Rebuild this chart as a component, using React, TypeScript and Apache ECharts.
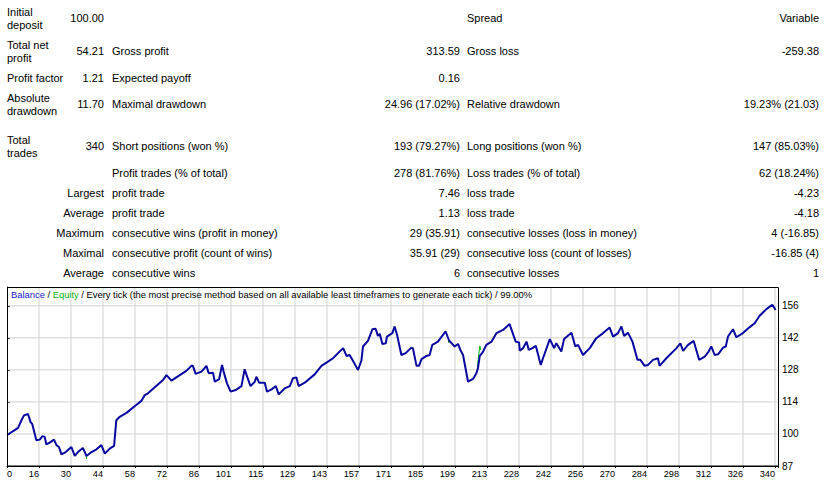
import React, { useEffect, useRef } from 'react';
import * as echarts from 'echarts';

// ---------- data ----------
const tableRows = [
  { a: ['Initial', 'deposit'], av: '100.00', b: '', bv: '', c: 'Spread', cv: 'Variable' },
  { a: ['Total net', 'profit'], av: '54.21', b: 'Gross profit', bv: '313.59', c: 'Gross loss', cv: '-259.38' },
  { a: ['Profit factor'], av: '1.21', b: 'Expected payoff', bv: '0.16', c: '', cv: '' },
  { a: ['Absolute', 'drawdown'], av: '11.70', b: 'Maximal drawdown', bv: '24.96 (17.02%)', c: 'Relative drawdown', cv: '19.23% (21.03)' },
  { a: ['Total', 'trades'], av: '340', b: 'Short positions (won %)', bv: '193 (79.27%)', c: 'Long positions (won %)', cv: '147 (85.03%)' },
  { a: [''], av: '', b: 'Profit trades (% of total)', bv: '278 (81.76%)', c: 'Loss trades (% of total)', cv: '62 (18.24%)' },
  { a: ['Largest'], av: '', b: 'profit trade', bv: '7.46', c: 'loss trade', cv: '-4.23' },
  { a: ['Average'], av: '', b: 'profit trade', bv: '1.13', c: 'loss trade', cv: '-4.18' },
  { a: ['Maximum'], av: '', b: 'consecutive wins (profit in money)', bv: '29 (35.91)', c: 'consecutive losses (loss in money)', cv: '4 (-16.85)' },
  { a: ['Maximal'], av: '', b: 'consecutive profit (count of wins)', bv: '35.91 (29)', c: 'consecutive loss (count of losses)', cv: '-16.85 (4)' },
  { a: ['Average'], av: '', b: 'consecutive wins', bv: '6', c: 'consecutive losses', cv: '1' },
];

const xTickLabels = ['0', '16', '30', '44', '58', '72', '86', '101', '115', '129', '143', '157', '171', '185', '199', '213', '228', '242', '256', '270', '284', '298', '312', '326', '340'];
const yTickLabels = ['87', '100', '114', '128', '142', '156'];
const yTickValues = [86.55, 100.45, 114.35, 128.25, 142.15, 156.05];

const balancePoints: [number, number][] = [
  [0, 100.0], [3.4, 102.1], [4.9, 103.1], [6.4, 106.4], [7.5, 108.5], [9.3, 109.1], [10.4, 105.7], [11.2, 104.7],
  [13.0, 97.7], [14.5, 98.0], [15.7, 99.5], [16.7, 99.2], [17.4, 95.9], [18.9, 96.7], [20.8, 98.0], [21.9, 95.6],
  [23.0, 94.8], [24.1, 91.6], [26.0, 92.6], [28.5, 94.8], [30.0, 90.9], [31.4, 92.6], [33.6, 94.4], [35.2, 90.9],
  [37.4, 92.6], [39.6, 93.8], [41.8, 95.6], [43.3, 91.9], [45.5, 94.1], [47.4, 95.3], [48.4, 106.4], [49.9, 107.9],
  [52.9, 109.6], [56.5, 112.5], [59.5, 114.8], [61.0, 117.3], [62.4, 118.1], [69.1, 123.9], [70.6, 126.0], [72.8, 123.6],
  [76.5, 126.0], [79.4, 127.8], [81.6, 130.0], [82.3, 130.0], [83.5, 126.5], [86.1, 127.5], [88.3, 130.0], [89.3, 126.8],
  [91.2, 127.0], [92.0, 123.1], [93.9, 124.2], [95.2, 130.4], [95.9, 127.5], [97.4, 122.4], [99.0, 118.8], [101.2, 119.5],
  [103.8, 121.2], [105.2, 128.5], [106.3, 125.3], [107.8, 121.2], [109.7, 123.1], [110.4, 125.3], [111.6, 122.7], [114.1, 122.7],
  [115.1, 118.8], [117.1, 119.8], [119.0, 121.2], [120.3, 117.6], [122.9, 120.2], [125.2, 121.2], [126.6, 124.6], [128.1, 125.0],
  [129.1, 121.2], [131.8, 122.7], [136.2, 126.3], [139.2, 130.0], [142.1, 131.8], [144.3, 133.3], [148.8, 137.7], [150.3, 134.3],
  [151.7, 134.7], [153.2, 132.1], [155.4, 128.2], [156.9, 132.3], [157.6, 138.4], [159.8, 140.8], [161.8, 145.9], [163.2, 146.1],
  [164.2, 143.0], [165.0, 143.9], [166.2, 139.5], [167.7, 139.8], [168.2, 142.7], [170.6, 144.2], [171.6, 147.1], [172.7, 143.4],
  [174.6, 134.7], [176.5, 135.5], [179.0, 137.9], [179.7, 137.6], [181.3, 130.0], [182.4, 130.0], [183.5, 132.9], [185.7, 134.3],
  [187.1, 134.7], [188.3, 139.1], [190.8, 140.5], [193.0, 143.4], [194.2, 144.9], [195.7, 141.0], [198.2, 138.4], [199.7, 139.5],
  [200.7, 136.9], [201.9, 134.7], [204.1, 123.1], [206.3, 124.3], [207.8, 126.8], [208.5, 129.0], [209.3, 134.3], [210.5, 135.7],
  [212.2, 139.1], [214.5, 140.5], [216.7, 144.2], [219.6, 145.6], [222.5, 148.1], [225.2, 140.5], [226.7, 140.1], [227.0, 136.6],
  [228.5, 137.7], [230.0, 140.5], [231.0, 136.9], [232.6, 137.7], [234.1, 138.7], [236.3, 130.4], [237.3, 133.3], [240.3, 141.6],
  [242.2, 137.7], [243.2, 139.8], [245.4, 136.2], [246.6, 141.6], [249.9, 144.4], [251.6, 138.4], [252.8, 139.1], [255.0, 134.7],
  [258.0, 137.7], [260.9, 142.0], [263.9, 144.2], [266.8, 146.6], [268.3, 142.7], [270.5, 144.2], [272.0, 147.1], [273.2, 143.0],
  [274.9, 144.4], [276.9, 140.5], [279.1, 132.6], [280.4, 132.6], [282.3, 130.0], [283.8, 130.4], [286.0, 132.6], [288.2, 133.3],
  [288.9, 130.0], [291.9, 133.3], [296.4, 137.7], [298.1, 139.8], [299.3, 136.5], [301.5, 139.1], [304.0, 140.8], [306.4, 132.6],
  [308.9, 134.0], [310.6, 136.2], [311.8, 138.4], [313.3, 134.7], [314.8, 135.0], [317.0, 137.9], [318.2, 138.4], [319.2, 142.7],
  [321.4, 145.9], [322.9, 142.4], [325.8, 144.2], [328.8, 146.8], [331.0, 148.5], [333.2, 151.7], [336.2, 154.6], [338.8, 156.5],
  [340.3, 154.2],
];

const equitySegments: [number, number][][] = [
  [[35.2, 91.0], [35.2, 89.6]],
  [[48.1, 106.4], [48.1, 103.2]],
  [[165.1, 143.9], [165.3, 142.1]],
  [[195.5, 141.0], [195.5, 140.0]],
  [[208.3, 129.5], [208.6, 132.6], [209.3, 138.6], [209.8, 136.9]],
];

const titleParts = {
  balance: 'Balance',
  equity: 'Equity',
  rest: 'Every tick (the most precise method based on all available least timeframes to generate each tick)',
  quality: '99.00%',
};

// ---------- layout ----------
const W = 829;
const H = 483;
const FONT = 'Liberation Sans, Arial, sans-serif';
const FS = 11;
const TITLE_FS = 9.4;
const XL_FS = 9.2;
const YL_FS = 10;
const rowY = [18, 51, 78, 104, 146, 173, 193, 213, 233, 253, 273];
const colALeft = 7;
const colAValRight = 104;
const colBLeft = 112;
const colBValRight = 460;
const colCLeft = 467;
const colCValRight = 819;
const X_MAX_LABEL = 340;
const X_STEPS = 24;
const GRID_COLOR = '#d0d0d0';
const G_LEFT = 7;
const G_TOP = 287;
const G_RIGHT = 778;
const G_BOTTOM = 466;
const Y_MIN = 86.55;
const Y_MAX = 164.2;
const X_MAX = ((G_RIGHT - G_LEFT) / 768) * X_MAX_LABEL;

function txt(text: string, x: number, y: number, align: string) {
  return {
    type: 'text',
    x,
    y,
    silent: true,
    style: {
      text,
      fill: '#000',
      font: `${FS}px ${FONT}`,
      textAlign: align,
      verticalAlign: 'middle',
    },
  };
}

function gridSeries(data: [number, number][]) {
  return {
    type: 'line',
    name: 'grid',
    data,
    showSymbol: false,
    symbol: 'none',
    lineStyle: { color: GRID_COLOR, width: 1 },
    z: 2,
  };
}

export default function App() {
  const ref = useRef<HTMLDivElement>(null);
  useEffect(() => {
    if (!ref.current) return;
    const chart = echarts.init(ref.current, undefined, { renderer: 'svg' });

    const graphics: any[] = [];
    tableRows.forEach((r, i) => {
      const y = rowY[i];
      if (i >= 6) {
        graphics.push(txt(r.a[0], colAValRight, y, 'right'));
      } else if (r.a.length === 2) {
        graphics.push(txt(r.a[0], colALeft, y - 6.5, 'left'));
        graphics.push(txt(r.a[1], colALeft, y + 6.5, 'left'));
      } else if (r.a[0]) {
        graphics.push(txt(r.a[0], colALeft, y, 'left'));
      }
      if (r.av) graphics.push(txt(r.av, colAValRight, y, 'right'));
      if (r.b) graphics.push(txt(r.b, colBLeft, y, 'left'));
      if (r.bv) graphics.push(txt(r.bv, colBValRight, y, 'right'));
      if (r.c) graphics.push(txt(r.c, colCLeft, y, 'left'));
      if (r.cv) graphics.push(txt(r.cv, colCValRight, y, 'right'));
    });
    // chart frame
    graphics.push({
      type: 'rect',
      silent: true,
      z: 100,
      shape: { x: G_LEFT + 0.5, y: G_TOP + 0.5, width: G_RIGHT - G_LEFT, height: G_BOTTOM - G_TOP - 0.5 },
      style: { fill: 'none', stroke: '#000', lineWidth: 1 },
    });

    const xStep = X_MAX_LABEL / X_STEPS;
    const xGridValues = xTickLabels.map((_, k) => k * xStep).slice(1);
    const yGridValues = yTickValues.slice(1);

    const series: any[] = [];
    xGridValues.forEach((v) => series.push(gridSeries([[v, Y_MIN], [v, Y_MAX]])));
    yGridValues.forEach((v) => series.push(gridSeries([[0, v], [X_MAX, v]])));
    equitySegments.forEach((seg) =>
      series.push({
        type: 'line',
        name: 'Equity',
        data: seg,
        showSymbol: false,
        symbol: 'none',
        lineStyle: { color: '#00b000', width: 1 },
        z: 3,
      })
    );
    series.push({
      type: 'line',
      name: 'Balance',
      data: balancePoints,
      showSymbol: false,
      symbol: 'none',
      lineStyle: { color: '#0808a0', width: 2 },
      z: 4,
    });

    chart.setOption({
      animation: false,
      textStyle: { fontFamily: FONT, fontSize: FS },
      title: {
        text: `{b|${titleParts.balance}} / {e|${titleParts.equity}} / ${titleParts.rest} / ${titleParts.quality}`,
        left: 11,
        top: 290,
        padding: 0,
        textStyle: {
          fontSize: TITLE_FS,
          fontWeight: 'normal',
          fontFamily: FONT,
          color: '#000',
          rich: {
            b: { color: '#1a1ad0', fontSize: TITLE_FS, fontFamily: FONT },
            e: { color: '#10b010', fontSize: TITLE_FS, fontFamily: FONT },
          },
        },
      },
      grid: {
        left: G_LEFT,
        right: W - G_RIGHT,
        top: G_TOP,
        bottom: H - G_BOTTOM,
        show: false,
        containLabel: false,
      },
      xAxis: {
        type: 'value',
        min: 0,
        max: X_MAX,
        interval: xStep,
        axisLine: { show: true, lineStyle: { color: '#000' } },
        axisTick: { show: true, length: 2, lineStyle: { color: '#000' } },
        splitLine: { show: false },
        axisLabel: {
          show: true,
          margin: 3,
          align: 'right',
          alignMinLabel: 'left',
          color: '#000',
          fontSize: XL_FS,
          fontFamily: FONT,
          showMinLabel: true,
          showMaxLabel: true,
          hideOverlap: false,
          formatter: (v: number) => {
            const k = Math.round(v / xStep);
            if (Math.abs(v - k * xStep) > 1e-6 || k > X_STEPS) return '';
            return xTickLabels[k];
          },
        },
      },
      yAxis: {
        type: 'value',
        position: 'right',
        min: Y_MIN,
        max: Y_MAX,
        axisLine: { show: true, lineStyle: { color: '#000' } },
        axisTick: { show: true, length: 3, inside: false, lineStyle: { color: '#000' }, customValues: yTickValues },
        splitLine: { show: false },
        axisLabel: {
          show: true,
          margin: 4,
          color: '#000',
          fontSize: YL_FS,
          fontFamily: FONT,
          customValues: yTickValues,
          formatter: (v: number) => {
            let best = 0;
            yTickValues.forEach((t, i) => {
              if (Math.abs(t - v) < Math.abs(yTickValues[best] - v)) best = i;
            });
            return yTickLabels[best];
          },
        },
      },
      series,
      graphic: graphics,
    });
    return () => chart.dispose();
  }, []);
  return <div ref={ref} style={{ position: 'fixed', left: 0, top: 0, width: W, height: H, background: '#fff' }} />;
}
